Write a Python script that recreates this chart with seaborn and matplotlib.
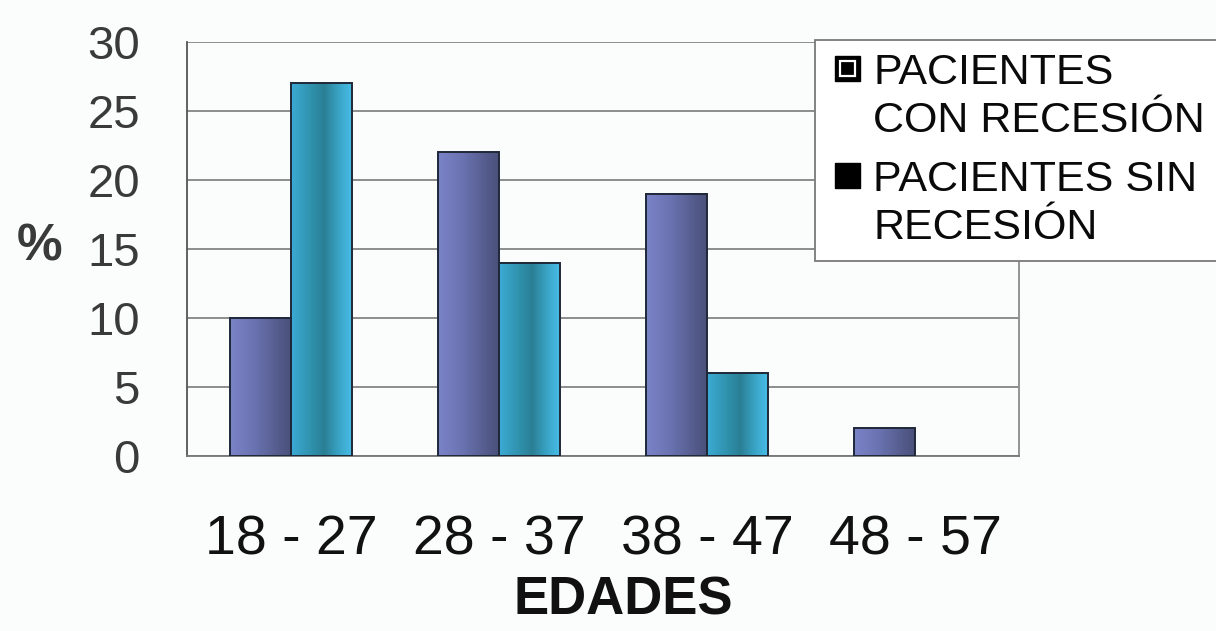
import numpy as np
import pandas as pd
import matplotlib
matplotlib.use("Agg")
import matplotlib.pyplot as plt
import seaborn as sns
from matplotlib import font_manager
from matplotlib.colors import LinearSegmentedColormap
from matplotlib.patches import Patch, Rectangle
from matplotlib.legend_handler import HandlerBase

# ---- data -------------------------------------------------------------
edades = ["18 - 27", "28 - 37", "38 - 47", "48 - 57"]
con_recesion = [10, 22, 19, 2]
sin_recesion = [27, 14, 6, 0]
grupos = ["PACIENTES\nCON RECESIÓN", "PACIENTES SIN\nRECESIÓN"]
y_ticks = [0, 5, 10, 15, 20, 25, 30]

df = pd.DataFrame({
    "edad": edades * 2,
    "pct": con_recesion + sin_recesion,
    "grupo": [grupos[0]] * len(edades) + [grupos[1]] * len(edades),
})

# ---- style ------------------------------------------------------------
sns.set_theme(style="white")
available = {f.name for f in font_manager.fontManager.ttflist}
narrow = "Liberation Sans Narrow" if "Liberation Sans Narrow" in available else "Liberation Sans"
plt.rcParams["font.family"] = ["Liberation Sans", "DejaVu Sans"]

BG = "#fbfcfc"
W, H = 1216, 631
fig = plt.figure(figsize=(W / 100, H / 100), dpi=100, facecolor=BG)
ax = fig.add_axes([187 / W, 1 - 456 / H, (1019 - 187) / W, (456 - 42) / H])
ax.set_facecolor(BG)

sns.barplot(data=df, x="edad", y="pct", hue="grupo", order=edades, hue_order=grupos,
            palette=["#646ca8", "#2f90ad"], saturation=1, width=0.586,
            edgecolor="#1e2838", linewidth=1.4, legend=False, ax=ax, zorder=3)

# horizontal shading inside every bar
purple = LinearSegmentedColormap.from_list(
    "p", [(0, "#7b83c8"), (0.4, "#6b73b2"), (0.75, "#565e90"), (1, "#4a5079")])
cyan = LinearSegmentedColormap.from_list(
    "c", [(0, "#3cabd6"), (0.35, "#2f90aa"), (0.55, "#2a7f94"), (0.8, "#3aa6c9"), (1, "#48bde6")])
grad = np.linspace(0, 1, 256).reshape(1, -1)
bars = [p for p in ax.patches if isinstance(p, Rectangle)]
n = len(edades)
for i, bar in enumerate(bars):
    h = bar.get_height()
    if h <= 0:
        bar.set_linewidth(0)
        continue
    x0 = bar.get_x()
    cmap = purple if i < n else cyan
    ax.imshow(grad, cmap=cmap, extent=[x0, x0 + bar.get_width(), 0, h],
              aspect="auto", origin="lower", zorder=2.9, interpolation="bilinear")
    bar.set_facecolor("none")

ax.set_xlim(-0.5, len(edades) - 0.5)
ax.set_ylim(0, 30)

# ---- axes -------------------------------------------------------------
ax.set_yticks(y_ticks)
ax.yaxis.grid(True, color="#8c8c8c", linewidth=1.4, zorder=0)
ax.set_axisbelow(True)
ax.tick_params(axis="y", direction="out", length=12, width=1.3, color="#666666",
               labelsize=34, labelcolor="#3a3a3a", pad=22)

ax.set_xticks(np.arange(-0.5, len(edades), 1.0))
ax.set_xticklabels([])
ax.set_xticks(range(len(edades)), minor=True)
ax.set_xticklabels(edades, minor=True, fontsize=40, family=narrow, color="#111111")
ax.tick_params(axis="x", which="major", direction="out", length=14, width=1.3, color="#666666")
ax.tick_params(axis="x", which="minor", length=0, pad=42)

for side in ["left", "bottom", "right"]:
    ax.spines[side].set_visible(True)
    ax.spines[side].set_linewidth(1.3)
ax.spines["left"].set_color("#555555")
ax.spines["bottom"].set_color("#777777")
ax.spines["right"].set_color("#8c8c8c")
ax.spines["top"].set_visible(False)

ax.set_ylabel("%", rotation=0, fontsize=37, fontweight="bold", color="#3a3a3a")
ax.yaxis.set_label_coords(-0.177, 0.505)
ax.yaxis.label.set_va("center")

ax.set_xlabel("EDADES", fontsize=38, fontweight="bold", family=narrow, color="#111111")
ax.xaxis.set_label_coords(0.524, -0.350)
ax.xaxis.label.set_va("center")


# ---- legend -----------------------------------------------------------
class SquareHandler(HandlerBase):
    def __init__(self, framed, lift):
        super().__init__()
        self.framed = framed
        self.lift = lift

    def create_artists(self, legend, orig_handle, xdescent, ydescent,
                       width, height, fontsize, trans):
        s = 0.58 * fontsize
        x0 = -xdescent + width - s
        y0 = -ydescent + (height - s) / 2 + self.lift * fontsize
        arts = [Rectangle((x0, y0), s, s, facecolor="black", edgecolor="black",
                          transform=trans)]
        if self.framed:
            arts.append(Rectangle((x0 + 0.2 * s, y0 + 0.2 * s), 0.6 * s, 0.6 * s,
                                  facecolor="none", edgecolor="white", linewidth=1.6,
                                  transform=trans))
        return arts


h1, h2 = Patch(), Patch()
leg = ax.legend(handles=[h1, h2], labels=grupos,
                handler_map={h1: SquareHandler(True, 0.66), h2: SquareHandler(False, 0.66)},
                loc="upper left", bbox_to_anchor=(815 / W, 1 - 40 / H),
                bbox_transform=fig.transFigure, frameon=True, fancybox=False,
                edgecolor="#7a7a7a", facecolor="white", framealpha=1,
                fontsize=31, handlelength=0.75, handleheight=0.7, handletextpad=0.3,
                labelspacing=0.45, borderpad=0.3, borderaxespad=0)
leg.get_frame().set_linewidth(1.3)
leg.set_zorder(10)
for t in leg.get_texts():
    t.set_linespacing(1.25)
    t.set_color("#0a0a0a")

fig.savefig("out.png", dpi=100, facecolor=BG)
